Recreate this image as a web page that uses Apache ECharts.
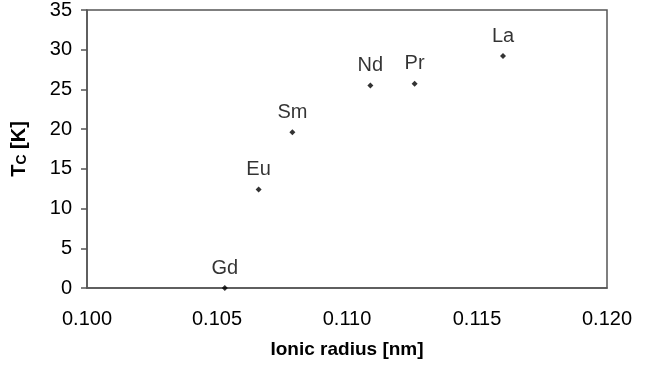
<!DOCTYPE html>
<html>
<head>
<meta charset="utf-8">
<script src="https://cdn.jsdelivr.net/npm/echarts@6/dist/echarts.min.js"></script>
<style>
  html, body { margin: 0; padding: 0; background: #fff; }
  #chart { width: 662px; height: 374px; }
</style>
</head>
<body>
<div id="chart"></div>
<script>
// Rare-earth elements, their ionic radius (nm) and superconducting Tc (K)
const elements = ['Gd', 'Eu', 'Sm', 'Nd', 'Pr', 'La'];
const ionicRadius = [0.1053, 0.1066, 0.1079, 0.1109, 0.1126, 0.1160];
const tcValues = [0.0, 12.4, 19.6, 25.5, 25.7, 29.2];

const FONT = '"Liberation Sans", Arial, sans-serif';
const points = elements.map((name, i) => ({ name, value: [ionicRadius[i], tcValues[i]] }));

const chart = echarts.init(document.getElementById('chart'), null, { renderer: 'canvas' });
chart.setOption({
  animation: false,
  backgroundColor: '#ffffff',
  grid: {
    left: 87, right: 55, top: 9, bottom: 86,
    show: true, borderColor: '#555', borderWidth: 1.5, backgroundColor: 'transparent'
  },
  xAxis: {
    type: 'value', min: 0.1, max: 0.12, interval: 0.005,
    name: 'Ionic radius [nm]', nameLocation: 'middle', nameGap: 52,
    nameTextStyle: { fontFamily: FONT, fontSize: 19, fontWeight: 'bold', color: '#000' },
    axisLine: { show: true, lineStyle: { color: '#555', width: 1.5 } },
    axisTick: { show: false },
    splitLine: { show: false },
    axisLabel: {
      margin: 21, fontFamily: FONT, fontSize: 20, color: '#000',
      formatter: v => v.toFixed(3)
    }
  },
  yAxis: {
    type: 'value', min: 0, max: 35, interval: 5,
    name: '{t|T}{s|C}{t| [K]}', nameLocation: 'middle', nameGap: 58, nameRotate: 90,
    nameTextStyle: {
      rich: {
        t: { fontFamily: FONT, fontSize: 20, fontWeight: 'bold', color: '#000' },
        s: { fontFamily: FONT, fontSize: 14, fontWeight: 'bold', color: '#000', verticalAlign: 'bottom', padding: [6, 0, 0, 0] }
      }
    },
    axisLine: { show: true, lineStyle: { color: '#555', width: 1.5 } },
    axisTick: { show: true, inside: false, length: 6, lineStyle: { color: '#555', width: 1.5 } },
    splitLine: { show: false },
    axisLabel: { margin: 15, fontFamily: FONT, fontSize: 20, color: '#000' }
  },
  series: [{
    type: 'scatter',
    data: points,
    symbol: 'diamond',
    symbolSize: 6,
    itemStyle: { color: '#000' },
    label: {
      show: true, position: 'top', distance: 7,
      formatter: p => p.name,
      fontFamily: FONT, fontSize: 20, color: '#000'
    }
  }]
});
</script>
</body>
</html>
